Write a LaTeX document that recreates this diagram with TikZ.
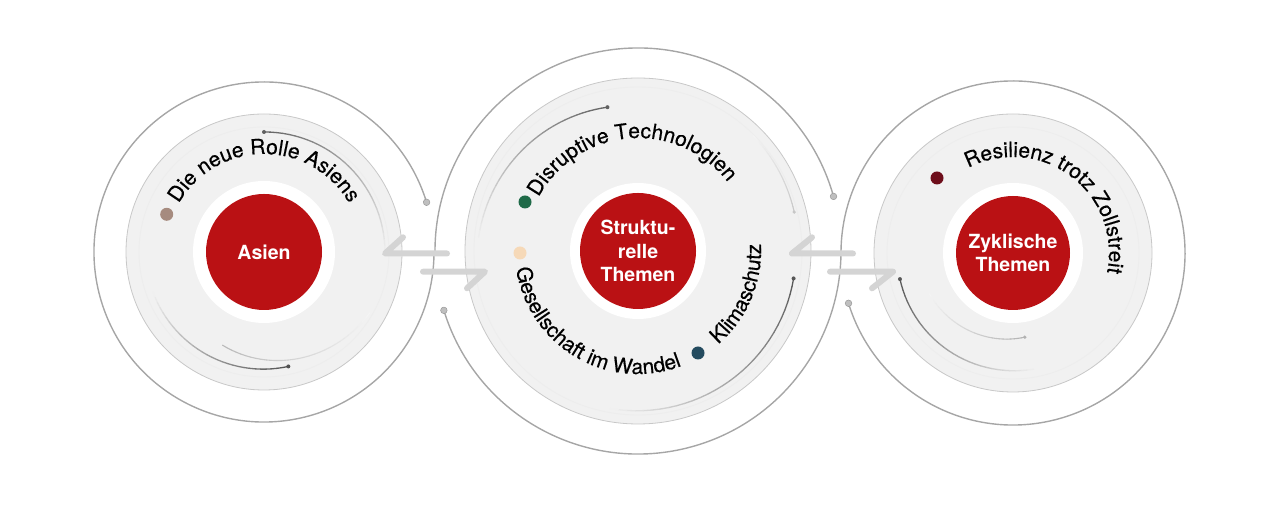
\documentclass[tikz,border=0pt]{standalone}
\usepackage{fontspec}
\setmainfont{TeX Gyre Heros}
\newfontface\lblfont{TeX Gyre Heros}[FakeBold=0.5]
\usetikzlibrary{decorations.text,calc}
\definecolor{kred}{RGB}{186,17,20}
\definecolor{diskgrey}{RGB}{241,241,241}
\definecolor{diskedge}{RGB}{200,200,200}
\definecolor{arrowgrey}{RGB}{212,212,212}
\definecolor{dotbrown}{RGB}{166,139,127}
\definecolor{dotgreen}{RGB}{31,106,72}
\definecolor{dotpeach}{RGB}{246,217,184}
\definecolor{dotblue}{RGB}{36,75,95}
\definecolor{dotwine}{RGB}{110,14,27}
\newcommand\fadearc[8]{%
  \foreach \i in {1,...,30}{%
    \pgfmathsetmacro\ta{#2+(#3-#2)*(\i-1)/30}%
    \pgfmathsetmacro\tb{#2+(#3-#2)*\i/30}%
    \pgfmathsetmacro\ra{#4+(#5-#4)*(\i-1)/30}%
    \pgfmathsetmacro\rb{#4+(#5-#4)*\i/30}%
    \pgfmathsetmacro\cc{#6+(#7-#6)*(\i-0.5)/30}%
    \draw[line width=#8, draw=black!\cc, line cap=round] ($(#1)+(\ta:\ra pt)$) -- ($(#1)+(\tb:\rb pt)$);
  }}
\begin{document}
\begin{tikzpicture}[x=1pt,y=1pt,
  outerl/.style={draw=black!35, line width=1.4pt},
  enddot/.style={fill=black!25, draw=black!40, line width=0.5pt},
  diskst/.style={circle, fill=diskgrey, draw=diskedge, line width=0.8pt, inner sep=0pt},
  whitest/.style={circle, fill=white, inner sep=0pt},
  redc/.style={circle, fill=kred, minimum size=116pt, inner sep=0pt, text=white, align=center, font=\bfseries\fontsize{19.5}{23.5}\selectfont},
  faintring/.style={draw=black!7, line width=0.9pt},
  harp/.style={draw=arrowgrey, line width=6pt, line cap=round, line join=round},
  themedot/.style={circle, inner sep=0pt, minimum size=13pt},
  lbl/.style={decorate, decoration={text along path, text align=center, text={#1}}}
]
\useasboundingbox (0,0) rectangle (1280,505);
\coordinate (L) at (264,253);
\coordinate (M) at (638,254);
\coordinate (R) at (1013,252);

% outer circles with gaps
\draw[outerl] ($(L)+(17:170pt)$) arc[start angle=17, end angle=360, radius=170pt];
\draw[outerl] ($(M)+(15.6:203pt)$) arc[start angle=15.6, end angle=180, radius=203pt];
\draw[outerl] ($(M)+(197:203pt)$) arc[start angle=197, end angle=360, radius=203pt];
\draw[outerl] ($(R)+(197:172pt)$) arc[start angle=197, end angle=540, radius=172pt];
\path[enddot] ($(L)+(17:170pt)$) circle[radius=3.3pt];
\path[enddot] ($(M)+(15.6:203pt)$) circle[radius=3.3pt];
\path[enddot] ($(M)+(197:203pt)$) circle[radius=3.3pt];
\path[enddot] ($(R)+(197:172pt)$) circle[radius=3.3pt];

% grey disks
\node[diskst, minimum size=276pt] (Ld) at (L) {};
\node[diskst, minimum size=346pt] (Md) at (M) {};
\node[diskst, minimum size=278pt] (Rd) at (R) {};
\draw[faintring] (L) circle[radius=125pt];
\draw[faintring] (M) circle[radius=164pt];
\draw[faintring] (R) circle[radius=126pt];

% inner arcs, left
\fadearc{L}{90}{0}{120}{121}{62}{6}{1.3pt}
\fill[black!62] ($(L)+(90:120pt)$) circle[radius=2pt];
\fadearc{L}{200}{282}{118}{117}{5}{68}{1.3pt}
\fill[black!68] ($(L)+(282:117pt)$) circle[radius=2pt];
\fadearc{L}{246}{330}{102}{122}{28}{4}{1.1pt}
% inner arcs, middle
\fadearc{M}{102}{175}{147}{160}{62}{6}{1.3pt}
\fill[black!62] ($(M)+(102:147pt)$) circle[radius=2pt];
\fadearc{M}{45}{14}{163}{161}{4}{22}{1.1pt}
\fill[black!22] ($(M)+(14:161pt)$) circle[radius=1.8pt];
\fadearc{M}{-10}{-100}{158}{160}{66}{5}{1.3pt}
\fill[black!66] ($(M)+(-10:158pt)$) circle[radius=2pt];
% inner arcs, right
\fadearc{R}{193}{280}{116}{118}{66}{6}{1.3pt}
\fill[black!66] ($(R)+(193:116pt)$) circle[radius=2pt];
\fadearc{R}{206}{278}{93}{85}{4}{30}{1.1pt}
\fill[black!30] ($(R)+(278:85pt)$) circle[radius=1.8pt];

% white rings and red cores
\node[whitest, minimum size=142pt] (Lw) at (L) {};
\node[whitest, minimum size=136pt] (Mw) at (M) {};
\node[whitest, minimum size=140pt] (Rw) at (R) {};
\node[redc] (Lr) at (L) {Asien};
\node[redc] (Mr) at (M) {Struktu-\\relle\\Themen};
\node[redc, minimum size=114pt] (Rr) at (R) {Zyklische\\Themen};

% theme dots
\node[themedot, fill=dotbrown] (d1) at (166.7,290.7) {};
\node[themedot, fill=dotgreen] (d2) at (525,303) {};
\node[themedot, fill=dotpeach] (d3) at (520,252) {};
\node[themedot, fill=dotblue] (d4) at (698,152) {};
\node[themedot, fill=dotwine] (d5) at (937,327) {};

% curved labels
\path[lbl={|\lblfont\fontsize{21}{21}\selectfont|Die neue Rolle Asiens}]
  ($(L)+(180:98pt)$) arc[start angle=180, end angle=0, radius=98pt];
\path[lbl={|\lblfont\fontsize{21}{21}\selectfont|Disruptive Technologien}]
  ($(M)+(184.5:113pt)$) arc[start angle=184.5, end angle=4.5, radius=113pt];
\path[lbl={|\lblfont\fontsize{21}{21}\selectfont|Gesellschaft im Wandel}]
  ($(M)+(150:123pt)$) arc[start angle=150, end angle=329, radius=123pt];
\path[lbl={|\lblfont\fontsize{21}{21}\selectfont|Klimaschutz}]
  ($(M)+(-110:123pt)$) arc[start angle=-110, end angle=64, radius=123pt];
\path[lbl={|\lblfont\fontsize{21}{21}\selectfont|Resilienz trotz Zollstreit}]
  ($(R)+(143:96pt)$) arc[start angle=143, end angle=-37, radius=96pt];

% harpoon connectors
\coordinate (h1a) at (447,251.5); \coordinate (h1b) at (385,251.5); \coordinate (h1c) at (403,267.7);
\coordinate (h2a) at (423,233.3); \coordinate (h2b) at (485,233.3); \coordinate (h2c) at (467,216.7);
\coordinate (h3a) at (853,251.5); \coordinate (h3b) at (792,251.5); \coordinate (h3c) at (812,267.7);
\coordinate (h4a) at (830,233.3); \coordinate (h4b) at (893,233.3); \coordinate (h4c) at (872,216.7);
\draw[harp] (h1a) -- (h1b) -- (h1c);
\draw[harp] (h2a) -- (h2b) -- (h2c);
\draw[harp] (h3a) -- (h3b) -- (h3c);
\draw[harp] (h4a) -- (h4b) -- (h4c);
\end{tikzpicture}
\end{document}
